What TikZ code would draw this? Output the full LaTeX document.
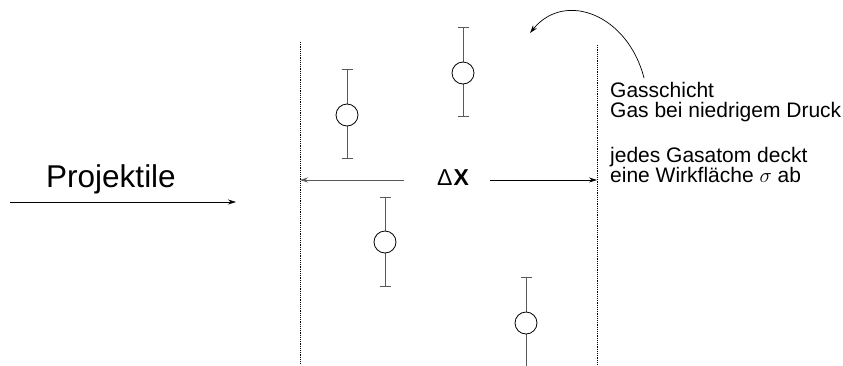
\documentclass[tikz,border=0pt]{standalone}
\usepackage{fontspec}
\setmainfont{Liberation Sans}
\usetikzlibrary{arrows.meta}
\begin{document}
\begin{tikzpicture}[x=1pt,y=-1pt,
  bar/.style={draw=black!65,line width=0.9pt},
  atom/.style={circle,draw=black,line width=0.8pt,minimum size=22pt,inner sep=0pt,fill=white},
  boundary/.style={dash pattern=on 1.2pt off 1pt,line width=0.6pt},
  arr/.style={-{Stealth[length=8pt,width=5pt]},line width=0.7pt},
  lbl/.style={anchor=base west,inner sep=0pt,font=\fontsize{21}{20}\selectfont}]
\useasboundingbox (0,0) rectangle (843,365);
% boundaries
\coordinate (l1) at (300,42); \coordinate (l2) at (300,365);
\coordinate (r1) at (597,45); \coordinate (r2) at (597,365);
\draw[boundary] (l1) -- (l2);
\draw[boundary] (r1) -- (r2);
% atoms with error bars
\foreach \n/\x/\t/\c/\b in {a/347/69/115/158, b/463/27/73/116, c/385/197/242/286, d/526/277/323/370}{
  \coordinate (\n t) at (\x,\t); \coordinate (\n b) at (\x,\b);
  \draw[bar] (\n t) -- (\n b);
  \draw[bar] ([xshift=-5.5pt]\n t) -- ([xshift=5.5pt]\n t);
  \draw[bar] ([xshift=-5.5pt]\n b) -- ([xshift=5.5pt]\n b);
  \node[atom] (\n) at (\x,\c) {};
}
% Delta x
\node[inner sep=0pt,anchor=base,font=\fontsize{23}{22}\selectfont] (dx) at (453,185) {Δ\kern1pt\textbf{X}};
\coordinate (dl) at (404,180); \coordinate (dr) at (490,180);
\coordinate (dlt) at (300,180); \coordinate (drt) at (597,180);
\draw[arr,draw=black!65] (dl) -- (dlt);
\draw[arr] (dr) -- (drt);
% projectiles
\node[inner sep=0pt,anchor=base,font=\fontsize{31.5}{30}\selectfont] (proj) at (111,187) {Projektile};
\coordinate (p1) at (10,202); \coordinate (p2) at (236,202);
\draw[arr] (p1) -- (p2);
% labels
\node[lbl] (g1) at (610,97) {Gasschicht};
\node[lbl] (g2) at (610,117) {Gas bei niedrigem Druck};
\node[lbl] (g3) at (610,162) {jedes Gasatom deckt};
\node[lbl] (g4) at (610,182) {eine Wirkfläche $\sigma$ ab};
% curved arrow
\coordinate (cs) at (644,78); \coordinate (ce) at (530,33);
\draw[arr] (cs) .. controls (628,15) and (565,-10) .. (ce);
\end{tikzpicture}
\end{document}
